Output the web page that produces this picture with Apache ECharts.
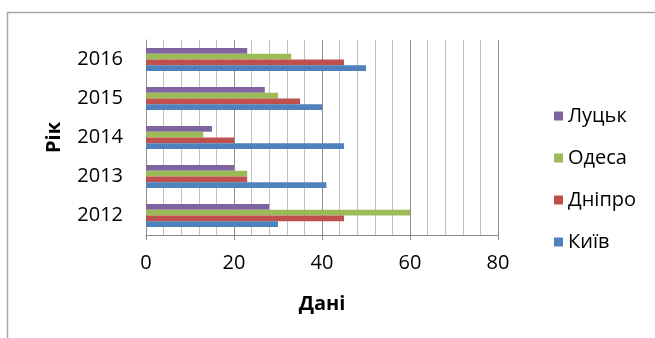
<!DOCTYPE html>
<html>
<head>
<meta charset="utf-8">
<script src="https://cdn.jsdelivr.net/npm/echarts@6/dist/echarts.min.js"></script>
<style>
  html, body { margin: 0; padding: 0; background: #fff; }
  #chart { width: 655px; height: 338px; }
</style>
</head>
<body>
<div id="chart"></div>
<script>
// Years on the category axis (bottom to top)
const years = ['2012', '2013', '2014', '2015', '2016'];

// Values per city, in year order
const kyiv   = [30, 41, 45, 40, 50];
const dnipro = [45, 23, 20, 35, 45];
const odesa  = [60, 23, 13, 30, 33];
const lutsk  = [28, 20, 15, 27, 23];

// Value axis ticks
const xTicks = [0, 20, 40, 60, 80];

const FONT = '"Open Sans", "Liberation Sans", sans-serif';

const chart = echarts.init(document.getElementById('chart'), null, { renderer: 'canvas' });

function barSeries(name, data, color) {
  return {
    name: name,
    type: 'bar',
    data: data,
    barGap: '0%',
    barCategoryGap: '41%',
    itemStyle: { color: color },
    emphasis: { disabled: true }
  };
}

chart.setOption({
  animation: false,
  textStyle: { fontFamily: FONT },
  graphic: [{
    type: 'rect',
    shape: { x: 7.5, y: 12.5, width: 700, height: 400 },
    style: { fill: 'none', stroke: '#a6a6a6', lineWidth: 1.5 },
    silent: true
  }],
  grid: { left: 146, right: 157, top: 40, bottom: 103, containLabel: false },
  xAxis: {
    type: 'value',
    min: xTicks[0],
    max: xTicks[xTicks.length - 1],
    interval: 20,
    name: 'Дані',
    nameLocation: 'middle',
    nameGap: 59,
    nameTextStyle: { fontSize: 20, fontWeight: 'bold', color: '#000', fontFamily: FONT },
    axisLine: { show: true, lineStyle: { color: '#8c8c8c', width: 1 } },
    axisTick: { show: true, length: 5, lineStyle: { color: '#8c8c8c' } },
    axisLabel: { fontSize: 20, color: '#000', margin: 18, fontFamily: FONT },
    splitLine: { show: true, lineStyle: { color: '#8c8c8c', width: 1 } },
    minorTick: { show: false, splitNumber: 5 },
    minorSplitLine: { show: true, lineStyle: { color: '#c0c0c0', width: 1 } }
  },
  yAxis: {
    type: 'category',
    data: years,
    name: 'Рік',
    nameLocation: 'middle',
    nameGap: 82,
    nameTextStyle: { fontSize: 20, fontWeight: 'bold', color: '#000', fontFamily: FONT },
    axisLine: { show: true, lineStyle: { color: '#8c8c8c', width: 1 } },
    axisTick: { show: false },
    axisLabel: { fontSize: 20, color: '#000', margin: 23, fontFamily: FONT },
    splitLine: { show: false }
  },
  legend: {
    orient: 'vertical',
    left: 549,
    top: 100,
    itemWidth: 9,
    itemHeight: 9,
    itemGap: 20,
    icon: 'rect',
    selectedMode: false,
    data: ['Луцьк', 'Одеса', 'Дніпро', 'Київ'],
    textStyle: { fontSize: 20, color: '#000', fontFamily: FONT, lineHeight: 22 }
  },
  // Series listed top-to-bottom within each year group
  series: [
    barSeries('Луцьк', lutsk, '#8064A2'),
    barSeries('Одеса', odesa, '#9BBB59'),
    barSeries('Дніпро', dnipro, '#C0504D'),
    barSeries('Київ', kyiv, '#4F81BD')
  ]
});
</script>
</body>
</html>
